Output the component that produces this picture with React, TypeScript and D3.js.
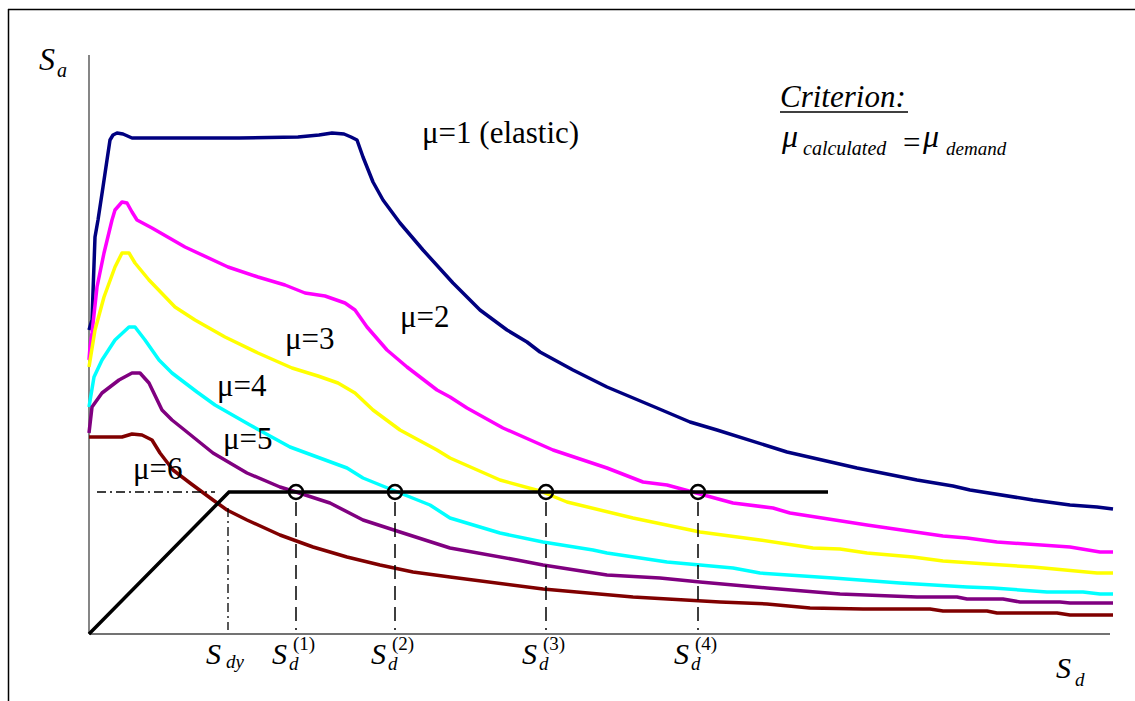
import React from 'react';
import * as d3 from 'd3';

// Capacity spectrum curves (Sd, Sa in plot units)
const mu1: [number, number][] = [
  [0, 304], [3, 314], [6, 397], [9, 414], [14, 447], [18, 474], [21, 494], [24, 499], [28, 501],
  [34, 500], [43, 496], [100, 496], [150, 496], [209, 497], [230, 499], [243, 501], [255, 500],
  [262, 497], [268, 494], [274, 477], [284, 452], [294, 434], [311, 411], [334, 384], [364, 351],
  [391, 324], [418, 304], [438, 292], [451, 282], [484, 264], [518, 247], [568, 226], [601, 212],
  [628, 204], [698, 182], [768, 166], [828, 154], [864, 148], [881, 144], [944, 134], [981, 129],
  [1008, 127], [1024, 125],
];
const mu2: [number, number][] = [
  [0, 274], [1, 287], [3, 301], [8, 347], [15, 381], [23, 414], [26, 424], [33, 432], [38, 431],
  [43, 422], [48, 414], [63, 406], [96, 387], [139, 367], [169, 357], [196, 349], [216, 341],
  [236, 338], [256, 331], [266, 324], [278, 307], [298, 284], [318, 267], [348, 244], [361, 237],
  [378, 226], [414, 206], [464, 184], [518, 166], [554, 152], [578, 149], [611, 140], [644, 131],
  [684, 126], [701, 121], [778, 109], [854, 98], [878, 96], [908, 92], [981, 87], [1011, 82],
  [1024, 82],
];
const mu3: [number, number][] = [
  [0, 267], [6, 304], [15, 337], [26, 367], [33, 381], [40, 381], [46, 371], [60, 354], [86, 327],
  [106, 314], [136, 297], [169, 281], [203, 266], [229, 258], [249, 251], [266, 241], [284, 224],
  [311, 204], [348, 184], [361, 176], [411, 154], [451, 143], [478, 132], [544, 116], [611, 102],
  [671, 94], [724, 86], [751, 85], [778, 81], [824, 77], [854, 73], [898, 70], [944, 67],
  [1008, 61], [1024, 61],
];
const mu4: [number, number][] = [
  [0, 227], [5, 257], [13, 274], [26, 294], [40, 307], [46, 307], [56, 294], [70, 274], [83, 261],
  [108, 242], [126, 229], [161, 209], [201, 187], [258, 166], [274, 156], [306, 143], [341, 129],
  [361, 116], [411, 101], [454, 92], [504, 84], [518, 81], [578, 72], [611, 69], [644, 66],
  [671, 61], [744, 56], [811, 51], [878, 47], [904, 46], [958, 42], [994, 42], [1011, 40],
  [1024, 40],
];
const mu5: [number, number][] = [
  [0, 201], [3, 227], [13, 241], [30, 254], [43, 261], [51, 261], [60, 251], [73, 224], [83, 214],
  [93, 206], [124, 181], [158, 161], [191, 147], [207, 142], [241, 131], [274, 114], [311, 102],
  [361, 86], [428, 74], [454, 69], [518, 59], [571, 56], [611, 52], [678, 46], [751, 40],
  [828, 37], [868, 37], [878, 35], [914, 35], [931, 32], [971, 32], [981, 31], [1024, 31],
];
const mu6: [number, number][] = [
  [0, 197], [33, 197], [43, 200], [53, 199], [63, 194], [71, 181], [84, 164], [101, 151],
  [124, 134], [138, 124], [158, 114], [191, 99], [224, 87], [258, 77], [291, 69], [324, 62],
  [361, 57], [454, 45], [544, 37], [631, 32], [678, 30], [721, 26], [774, 25], [841, 25],
  [854, 23], [898, 23], [908, 21], [968, 21], [981, 19], [1024, 19],
];

const curves = [mu1, mu2, mu3, mu4, mu5, mu6];
const curveColors = ['#000080', '#ff00ff', '#ffff00', '#00ffff', '#800080', '#800000'];
const muLabels = ['\u03bc=1 (elastic)', '\u03bc=2', '\u03bc=3', '\u03bc=4', '\u03bc=5', '\u03bc=6'];
const muLabelPos: [number, number][] = [
  [422, 143], [400, 327], [285, 349], [217, 396], [223, 449], [133, 479],
];

// Bilinear demand curve and the trial displacements
const bilinear: [number, number][] = [[0, 0], [140, 142], [739, 142]];
const sdy = 140;
const saY = 142;
const trialSd = [207, 306, 457, 609];
const trialLabels = ['(1)', '(2)', '(3)', '(4)'];

const FONT = 'Liberation Serif';

export default function App() {
  const x = d3.scaleLinear().domain([0, 1024]).range([89, 1113]);
  const y = d3.scaleLinear().domain([0, 580]).range([634, 54]);
  const line = d3
    .line<[number, number]>()
    .x((d) => x(d[0]))
    .y((d) => y(d[1]));

  return (
    <svg width={1135} height={701} style={{ position: 'absolute', left: 0, top: 0, background: '#fff' }}>
      {/* frame */}
      <line x1={8} y1={9.5} x2={1135} y2={9.5} stroke="#000" strokeWidth={1.5} />
      <line x1={8.5} y1={9} x2={8.5} y2={701} stroke="#000" strokeWidth={1.5} />

      {/* axes */}
      <line x1={x(0)} y1={y(0)} x2={x(0)} y2={y(579)} stroke="#444" strokeWidth={1.3} />
      <line x1={x(0)} y1={y(0)} x2={x(1021)} y2={y(0)} stroke="#444" strokeWidth={1.3} />

      {/* curves */}
      {curves.map((c, i) => (
        <path
          key={i}
          d={line(c) || ''}
          fill="none"
          stroke={curveColors[i]}
          strokeWidth={3.5}
          strokeLinejoin="round"
        />
      ))}

      {/* dash-dot guides to yield point */}
      <line x1={x(8)} y1={y(saY)} x2={x(sdy - 14)} y2={y(saY)} stroke="#000" strokeWidth={1.3} strokeDasharray="9,4,2,4" />
      <line x1={x(sdy) - 1} y1={y(saY) + 16} x2={x(sdy) - 1} y2={y(4)} stroke="#000" strokeWidth={1.3} strokeDasharray="9,4,2,4" />

      {/* trial displacement dashed drops */}
      {trialSd.map((d, i) => (
        <line
          key={i}
          x1={x(d)}
          y1={y(saY) + 10}
          x2={x(d)}
          y2={y(4)}
          stroke="#000"
          strokeWidth={1.5}
          strokeDasharray="14,7"
        />
      ))}

      {/* bilinear */}
      <path d={line(bilinear) || ''} fill="none" stroke="#000" strokeWidth={3.5} />
      {trialSd.map((d, i) => (
        <circle key={i} cx={x(d)} cy={y(saY)} r={7} fill="none" stroke="#000" strokeWidth={2.5} />
      ))}

      {/* curve labels */}
      {muLabels.map((t, i) => (
        <text key={i} x={muLabelPos[i][0]} y={muLabelPos[i][1]} fontSize={31} fontFamily={FONT}>
          {t}
        </text>
      ))}

      {/* Sa axis label */}
      <text x={39} y={70} fontSize={32} fontStyle="italic" fontFamily={FONT}>S</text>
      <text x={57} y={77} fontSize={20} fontStyle="italic" fontFamily={FONT}>a</text>

      {/* criterion */}
      <text x={780} y={107} fontSize={31} fontStyle="italic" fontFamily={FONT}>Criterion:</text>
      <line x1={780} y1={112} x2={908} y2={112} stroke="#000" strokeWidth={1.5} />
      <text x={782} y={147} fontSize={32} fontStyle="italic" fontFamily={FONT}>{'\u03bc'}</text>
      <text x={803} y={155} fontSize={20} fontStyle="italic" fontFamily={FONT}>calculated</text>
      <text x={903} y={153} fontSize={31} fontFamily={FONT}>=</text>
      <text x={923} y={147} fontSize={32} fontStyle="italic" fontFamily={FONT}>{'\u03bc'}</text>
      <text x={946} y={155} fontSize={19} fontStyle="italic" fontFamily={FONT}>demand</text>

      {/* Sd labels */}
      <text x={206} y={664} fontSize={30} fontStyle="italic" fontFamily={FONT}>S</text>
      <text x={226} y={668} fontSize={19} fontStyle="italic" fontFamily={FONT}>dy</text>
      {trialSd.map((d, i) => (
        <g key={i}>
          <text x={x(d) - 24} y={664} fontSize={30} fontStyle="italic" fontFamily={FONT}>S</text>
          <text x={x(d) - 3} y={650} fontSize={19} fontFamily={FONT}>{trialLabels[i]}</text>
          <text x={x(d) - 7} y={670} fontSize={19} fontStyle="italic" fontFamily={FONT}>d</text>
        </g>
      ))}
      <text x={1056} y={678} fontSize={30} fontStyle="italic" fontFamily={FONT}>S</text>
      <text x={1075} y={686} fontSize={19} fontStyle="italic" fontFamily={FONT}>d</text>
    </svg>
  );
}
